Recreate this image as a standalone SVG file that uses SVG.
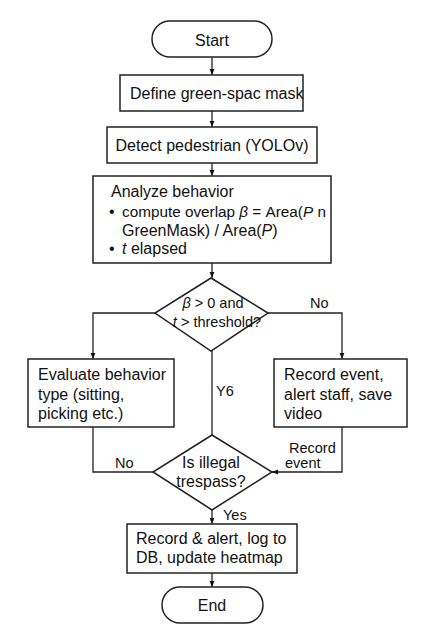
<svg xmlns="http://www.w3.org/2000/svg" width="427" height="640" viewBox="0 0 427 640">
<defs>
<marker id="ah" viewBox="0 0 10 10" refX="10" refY="5" markerWidth="6" markerHeight="6" orient="auto" markerUnits="userSpaceOnUse"><path d="M0,1 L10,5 L0,9 z" fill="#111"/></marker>
<style>
.s{fill:#fff;stroke:#222;stroke-width:1.5}
.t{font-family:"Liberation Sans","Helvetica",Arial,sans-serif;font-size:16px;fill:#111}
.d{font-family:"Liberation Sans","Helvetica",Arial,sans-serif;font-size:14.5px;fill:#111}
.l{font-family:"Liberation Sans","Helvetica",Arial,sans-serif;font-size:14.5px;fill:#111}
.c{fill:none;stroke:#222;stroke-width:1.3}
.i{font-style:italic}
</style>
</defs>
<rect width="427" height="640" fill="#fff"/>
<g id="connectors">
<line class="c" x1="212" y1="57" x2="212" y2="75" marker-end="url(#ah)"/>
<line class="c" x1="212" y1="111" x2="212" y2="127" marker-end="url(#ah)"/>
<line class="c" x1="212" y1="163" x2="212" y2="176" marker-end="url(#ah)"/>
<line class="c" x1="212" y1="263" x2="212" y2="278" marker-end="url(#ah)"/>
<polyline class="c" points="156,313 93,313 93,359" marker-end="url(#ah)"/>
<polyline class="c" points="268,313 342,313 342,359" marker-end="url(#ah)"/>
<line class="c" x1="212" y1="351" x2="212" y2="435"/>
<polyline class="c" points="93,427 93,472 153,472"/>
<polyline class="c" points="342,427 342,472 272,472" marker-end="url(#ah)"/>
<line class="c" x1="212" y1="510" x2="212" y2="524" marker-end="url(#ah)"/>
<line class="c" x1="212" y1="573" x2="212" y2="587" marker-end="url(#ah)"/>
<text class="l" x="310" y="308">No</text>
<text class="l" x="216" y="396">Y6</text>
<text class="l" x="115" y="468">No</text>
<text class="l" x="289" y="453">Record</text>
<text class="l" x="285" y="468">event</text>
<text class="l" x="223" y="520">Yes</text>
</g>
<g id="start">
<rect class="s" x="152" y="21" width="120" height="36" rx="18"/>
<text class="t" x="212" y="46" text-anchor="middle">Start</text>
</g>
<g id="define">
<rect class="s" x="120" y="75" width="183" height="36"/>
<text class="t" x="130" y="99">Define green-spac mask</text>
</g>
<g id="detect">
<rect class="s" x="107" y="127" width="210" height="36"/>
<text class="t" x="212" y="151" text-anchor="middle">Detect pedestrian (YOLOv)</text>
</g>
<g id="analyze">
<rect class="s" x="93" y="176" width="238" height="87"/>
<text class="t" x="111" y="197">Analyze behavior</text>
<text class="t" x="109" y="217">•</text>
<text class="t" x="122" y="217" style="font-size:15.3px">compute overlap <tspan class="i">β</tspan> = Area(<tspan class="i">P</tspan> n</text>
<text class="t" x="122" y="236">GreenMask) / Area(<tspan class="i">P</tspan>)</text>
<text class="t" x="109" y="254">•</text>
<text class="t" x="122" y="254"><tspan class="i">t</tspan> elapsed</text>
</g>
<g id="decision1">
<polygon class="s" points="211,278 268,313 211,351 155,313"/>
<text class="d" x="213" y="308" text-anchor="middle"><tspan class="i">β</tspan> &gt; 0 and</text>
<text class="d" x="217" y="327" text-anchor="middle"><tspan class="i">t</tspan> &gt; threshold?</text>
</g>
<g id="evaluate">
<rect class="s" x="28" y="359" width="146" height="68"/>
<text class="t" x="38" y="380">Evaluate behavior</text>
<text class="t" x="38" y="400">type (sitting,</text>
<text class="t" x="38" y="419">picking etc.)</text>
</g>
<g id="record">
<rect class="s" x="274" y="359" width="133" height="68"/>
<text class="t" x="284" y="380">Record event,</text>
<text class="t" x="284" y="400">alert staff, save</text>
<text class="t" x="284" y="419">video</text>
</g>
<g id="decision2">
<polygon class="s" points="212,435 272,472 212,510 153,472"/>
<text class="t" x="211" y="468" text-anchor="middle">Is illegal</text>
<text class="t" x="211" y="487" text-anchor="middle">trespass?</text>
</g>
<g id="alert">
<rect class="s" x="127" y="524" width="170" height="49"/>
<text class="t" x="136" y="544">Record &amp; alert, log to</text>
<text class="t" x="136" y="563">DB, update heatmap</text>
</g>
<g id="end">
<rect class="s" x="162" y="587" width="101" height="36" rx="18"/>
<text class="t" x="212" y="611" text-anchor="middle">End</text>
</g>
</svg>
